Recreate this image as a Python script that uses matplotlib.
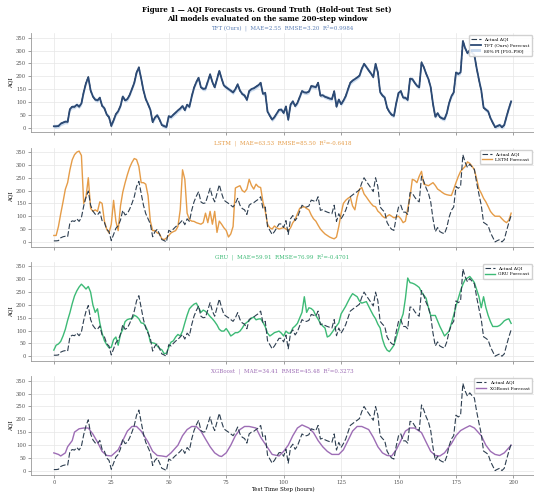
import matplotlib
matplotlib.use("Agg")
import matplotlib.pyplot as plt
import numpy as np

plt.rcParams["font.family"] = "DejaVu Serif"

# ground truth, one value per hourly step (0..199)
actual = [4, 4, 5, 16, 20, 22, 20, 75, 82, 80, 90, 80, 95, 140, 175, 198, 143, 120, 108, 105,
          118, 83, 76, 49, 40, 5, 29, 53, 63, 85, 123, 105, 110, 128, 150, 176, 216, 236, 190, 143,
          110, 90, 70, 20, 40, 49, 30, 9, 5, 0, 45, 40, 50, 59, 66, 75, 85, 67, 90, 80,
          123, 156, 178, 196, 156, 150, 152, 180, 209, 176, 156, 190, 223, 190, 163, 156, 150, 143, 136, 150,
          170, 143, 130, 125, 107, 143, 150, 153, 160, 166, 176, 130, 136, 60, 45, 29, 40, 55, 70, 70,
          56, 83, 29, 90, 103, 83, 96, 120, 143, 136, 136, 140, 163, 160, 156, 176, 123, 126, 120, 116,
          113, 110, 143, 80, 110, 90, 105, 123, 150, 176, 183, 190, 196, 203, 230, 250, 236, 223, 210, 196,
          250, 216, 136, 125, 116, 76, 60, 49, 45, 96, 136, 143, 116, 116, 107, 192, 190, 175, 163, 156,
          256, 236, 210, 190, 156, 90, 40, 56, 40, 35, 32, 56, 96, 123, 136, 216, 209, 216, 340, 310,
          290, 303, 292, 283, 230, 185, 143, 76, 70, 63, 36, 18, 0, 5, 9, 0, 9, 43, 75, 103]

tft = [5, 5, 6, 15, 19, 23, 22, 72, 81, 81, 89, 82, 94, 138, 173, 196, 145, 121, 109, 106,
       116, 85, 75, 51, 41, 7, 28, 52, 64, 84, 121, 106, 111, 127, 151, 174, 214, 234, 191, 145,
       111, 91, 69, 22, 39, 48, 31, 10, 6, 2, 44, 41, 50, 58, 67, 74, 84, 68, 89, 81,
       121, 155, 177, 194, 157, 151, 152, 179, 207, 177, 157, 189, 221, 191, 164, 157, 150, 144, 137, 150,
       168, 144, 131, 125, 108, 142, 150, 153, 159, 165, 174, 131, 135, 62, 46, 31, 41, 55, 69, 70,
       57, 82, 31, 89, 102, 84, 96, 119, 142, 137, 136, 140, 161, 160, 157, 174, 125, 126, 120, 117,
       113, 111, 141, 82, 109, 91, 105, 122, 149, 174, 183, 189, 195, 202, 229, 248, 236, 223, 211, 197,
       248, 215, 138, 125, 117, 78, 61, 50, 46, 95, 135, 142, 117, 116, 108, 190, 189, 175, 163, 157,
       253, 235, 210, 189, 157, 92, 42, 56, 41, 36, 33, 56, 95, 122, 137, 214, 209, 215, 337, 309,
       290, 301, 291, 282, 231, 186, 145, 78, 70, 63, 37, 19, 2, 6, 10, 2, 10, 43, 74, 102]
pi_half_width = 8

lstm_t = list(range(200))
lstm = [25, 25, 60, 110, 156, 205, 231, 281, 320, 340, 350, 354, 337, 150, 175, 250, 131, 119, 125, 119,
        156, 150, 81, 50, 35, 69, 162, 81, 44, 140, 194, 230, 262, 290, 310, 325, 321, 294, 231, 231,
        225, 180, 81, 44, 44, 35, 31, 12, 9, 15, 25, 35, 40, 44, 60, 125, 281, 244, 112, 87,
        81, 80, 75, 72, 69, 75, 112, 75, 119, 69, 119, 37, 81, 69, 55, 45, 19, 31, 60, 210,
        215, 219, 200, 194, 206, 244, 220, 206, 225, 215, 212, 156, 120, 69, 55, 50, 62, 55, 50, 53,
        56, 50, 44, 55, 75, 87, 110, 131, 135, 137, 130, 125, 105, 90, 81, 65, 50, 40, 31, 25,
        19, 15, 12, 19, 60, 110, 150, 162, 170, 175, 140, 125, 175, 205, 212, 187, 175, 162, 150, 140,
        137, 120, 112, 100, 94, 100, 106, 100, 94, 97, 100, 90, 75, 81, 130, 175, 244, 240, 231, 256,
        275, 225, 222, 219, 225, 231, 220, 206, 200, 193, 187, 184, 182, 181, 205, 231, 255, 275, 285, 294,
        312, 306, 295, 281, 245, 206, 190, 170, 156, 138, 119, 108, 100, 100, 100, 90, 81, 75, 85, 112]

gru = [24, 43, 48, 58, 79, 105, 140, 170, 205, 235, 255, 270, 281, 272, 262, 272, 250, 200, 171, 185,
       130, 90, 61, 45, 33, 35, 65, 75, 43, 85, 105, 135, 143, 146, 146, 160, 155, 146, 130, 128,
       115, 95, 55, 52, 50, 40, 30, 25, 10, 12, 35, 55, 60, 75, 85, 79, 98, 130, 160, 185,
       195, 203, 207, 190, 171, 180, 175, 166, 155, 146, 135, 122, 105, 98, 98, 108, 95, 79, 85, 92,
       92, 98, 110, 125, 132, 140, 148, 153, 142, 145, 146, 132, 115, 90, 79, 85, 92, 95, 98, 90,
       79, 98, 90, 90, 110, 118, 128, 150, 171, 232, 171, 189, 186, 178, 159, 145, 128, 118, 110, 75,
       80, 92, 105, 118, 130, 165, 180, 195, 213, 230, 244, 238, 232, 215, 207, 210, 213, 195, 177, 160,
       146, 125, 110, 67, 40, 24, 18, 30, 43, 73, 105, 140, 165, 226, 305, 287, 285, 281, 275, 268,
       250, 238, 226, 190, 159, 159, 159, 138, 116, 98, 79, 88, 98, 128, 160, 195, 225, 256, 280, 299,
       305, 311, 300, 287, 260, 232, 189, 232, 190, 159, 135, 116, 116, 116, 120, 128, 138, 143, 146, 128]

xgb_t = [0, 2, 3, 5, 6, 8, 9, 11, 13, 15, 17, 19, 21, 23, 25, 28, 30, 32, 34, 36,
         38, 41, 43, 45, 47, 49, 51, 54, 56, 58, 60, 62, 64, 66, 68, 70, 72, 73, 75, 77,
         79, 81, 83, 85, 88, 90, 93, 95, 98, 100, 102, 104, 106, 108, 111, 113, 115, 117, 119, 121,
         124, 126, 128, 130, 132, 134, 137, 139, 141, 143, 145, 147, 149, 151, 153, 155, 157, 160, 162, 164,
         166, 168, 170, 173, 175, 177, 179, 181, 183, 186, 188, 190, 192, 194, 196, 199]
xgb = [69, 63, 57, 69, 93, 117, 150, 163, 166, 166, 142, 111, 75, 59, 57, 81, 117, 154, 172, 172,
       154, 111, 75, 59, 57, 54, 69, 99, 136, 160, 172, 172, 154, 123, 93, 69, 57, 55, 69, 99,
       136, 160, 172, 172, 166, 130, 90, 63, 57, 75, 99, 136, 166, 178, 166, 148, 117, 93, 75, 63,
       63, 81, 117, 154, 172, 172, 160, 130, 93, 69, 59, 57, 81, 117, 154, 166, 166, 148, 111, 75,
       59, 57, 69, 105, 136, 156, 166, 175, 166, 136, 99, 75, 63, 59, 69, 99]

titles = [
    "TFT (Ours)  |  MAE=2.55  RMSE=3.20  R²=0.9984",
    "LSTM  |  MAE=63.53  RMSE=85.50  R²=-0.6418",
    "GRU  |  MAE=59.91  RMSE=76.99  R²=-0.4701",
    "XGBoost  |  MAE=34.41  RMSE=45.48  R²=0.3273",
]
labels = ["TFT (Ours) Forecast", "LSTM Forecast", "GRU Forecast", "XGBoost Forecast"]
colors = ["#2c4a75", "#e59c48", "#3dba76", "#9d6db5"]
title_colors = ["#5b7fb5", "#e59c48", "#3dba76", "#9d6db5"]
actual_color = "#2d3e50"

steps = np.arange(len(actual))
forecasts = [(steps, tft), (lstm_t, lstm), (steps, gru), (xgb_t, xgb)]

fig = plt.figure(figsize=(5.34, 4.95), dpi=100)
fig.text(0.5, 0.988,
         "Figure 1 — AQI Forecasts vs. Ground Truth  (Hold-out Test Set)\n"
         "All models evaluated on the same 200-step window",
         ha="center", va="top", fontsize=5, fontweight="bold", linespacing=1.1)

bottoms = [0.733, 0.502, 0.271, 0.040]
axes = []
for i, b in enumerate(bottoms):
    ax = fig.add_axes([0.058, b, 0.942, 0.2], sharex=axes[0] if axes else None)
    axes.append(ax)
    ax.grid(True, color="#e6e6e6", linewidth=0.5)
    ax.set_axisbelow(True)
    for s in ["top", "right"]:
        ax.spines[s].set_visible(False)
    for s in ["left", "bottom"]:
        ax.spines[s].set_color("#999999")
        ax.spines[s].set_linewidth(0.6)
    ax.tick_params(labelsize=3.8, length=2, width=0.4, pad=1.5, colors="#555555")

    ft, fv = forecasts[i]
    if i == 0:
        ax.fill_between(steps, np.array(tft) - pi_half_width, np.array(tft) + pi_half_width,
                        color="#a9c4e4", alpha=0.6, linewidth=0, label="80% PI [P10–P90]")
    ax.plot(steps, actual, color=actual_color, linestyle=(0, (5, 2)), linewidth=0.8,
            label="Actual AQI", zorder=3 if i else 2)
    ax.plot(ft, fv, color=colors[i], linewidth=1.3 if i == 0 else 1.0, label=labels[i],
            zorder=2 if i else 3)

    ax.set_ylim(-18, 368)
    ax.set_yticks(np.arange(0, 351, 50))
    ax.set_ylabel("AQI", fontsize=4, labelpad=2)
    ax.set_title(titles[i], fontsize=4, color=title_colors[i], pad=2.5)

    handles, labs = ax.get_legend_handles_labels()
    if i == 0:
        order = [1, 2, 0]
        handles = [handles[k] for k in order]
        labs = [labs[k] for k in order]
    ax.legend(handles, labs, loc="upper right", fontsize=3.2, frameon=True, framealpha=0.9,
              edgecolor="#cccccc", handlelength=2.2, borderpad=0.5, labelspacing=0.4)
    if i < 3:
        ax.tick_params(labelbottom=False)

axes[0].set_xlim(-9.95, 208.95)
axes[0].set_xticks(np.arange(0, 201, 25))
axes[3].set_xlabel("Test Time Step (hours)", fontsize=4, labelpad=1.5)

fig.savefig("out.png", dpi=100)
